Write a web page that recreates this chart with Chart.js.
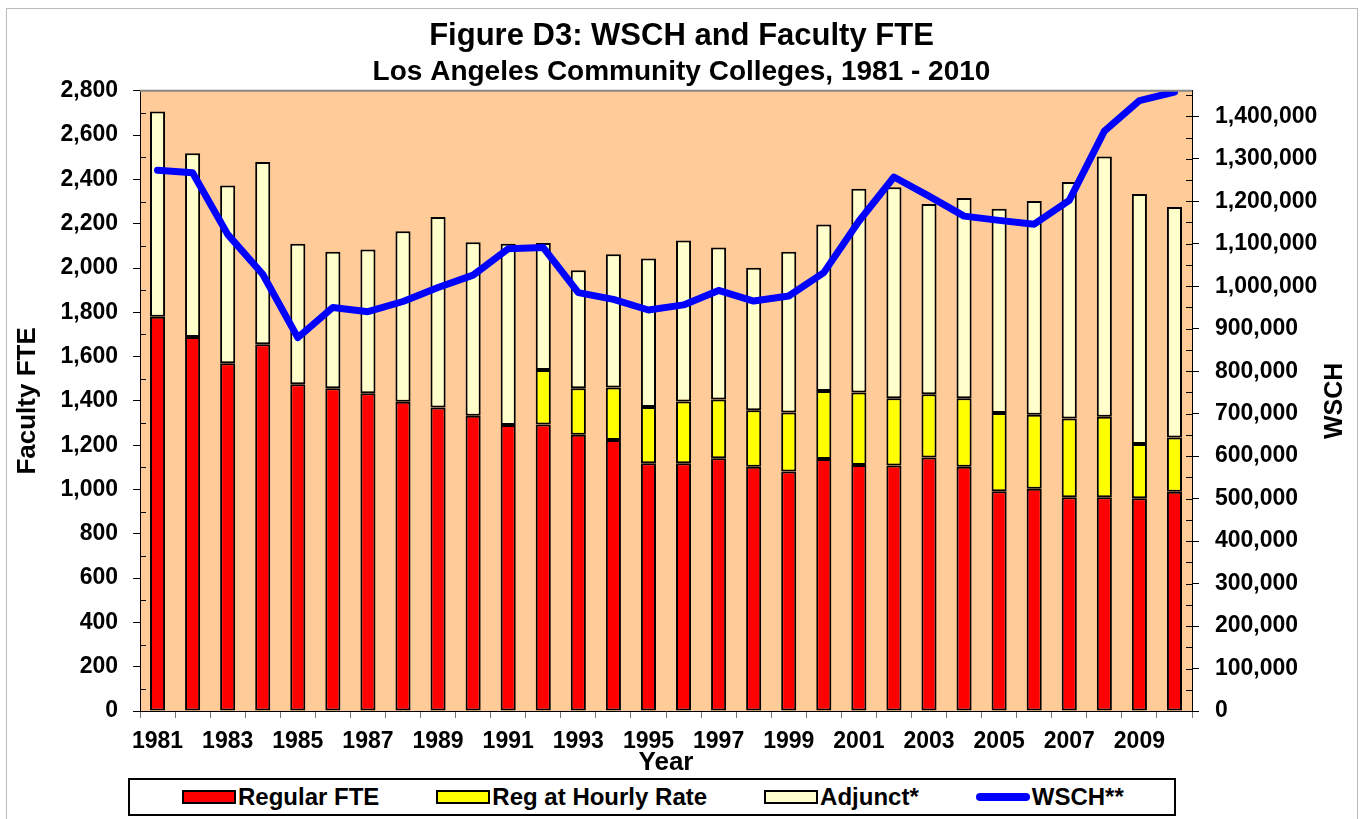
<!DOCTYPE html>
<html>
<head>
<meta charset="utf-8">
<title>Figure D3: WSCH and Faculty FTE</title>
<script src="https://cdn.jsdelivr.net/npm/chart.js@4.4.0/dist/chart.umd.min.js"></script>
<style>
  body { margin: 0; background: #fff; }
  #wrap { position: relative; width: 1364px; height: 819px; overflow: hidden; font-family: "Liberation Sans", Arial, sans-serif; }
  #frame { position: absolute; left: 6px; top: 8px; width: 1350px; height: 830px; border: 1px solid #bbb; }
  #chart { position: absolute; left: 0; top: 0; }
  #legend {
    position: absolute; left: 128px; top: 778px; width: 1048px; height: 38px;
    box-sizing: border-box; border: 2px solid #000; background: #fff;
    display: flex; align-items: center; padding-left: 52px; white-space: nowrap;
  }
  .item { display: flex; align-items: center; margin-right: 57px; flex-shrink: 0; }
  .sw { width: 54px; height: 14px; box-sizing: border-box; border: 2px solid #000; flex-shrink: 0; }
  .sw.line { height: 8px; border: none; border-radius: 4px; }
  .item span.txt { margin-left: 2px; font-weight: bold; font-size: 24px; color: #000; }
</style>
</head>
<body>
<div id="wrap">
  <div id="frame"></div>
  <canvas id="chart" width="1364" height="778"></canvas>
  <div id="legend"></div>
</div>
<script>
// категорії (роки)
const years = ["1981", "1982", "1983", "1984", "1985", "1986", "1987", "1988", "1989", "1990",
  "1991", "1992", "1993", "1994", "1995", "1996", "1997", "1998", "1999", "2000",
  "2001", "2002", "2003", "2004", "2005", "2006", "2007", "2008", "2009", "2010"];

// Faculty FTE (ліва вісь)
const regularFte = [1780, 1688, 1570, 1656, 1475, 1457, 1435, 1396, 1370, 1333,
  1291, 1293, 1247, 1223, 1118, 1118, 1141, 1103, 1081, 1138,
  1111, 1108, 1145, 1103, 992, 1003, 965, 965, 960, 990];
// до 1992 погодинних ставок немає
const hourlyFte = [null, null, null, null, null, null, null, null, null, null,
  null, 247, 210, 237, 255, 279, 265, 255, 267, 307,
  327, 304, 285, 309, 353, 334, 356, 363, 245, 245];
const adjunctFte = [926, 830, 803, 822, 635, 616, 648, 770, 860, 783,
  819, 573, 533, 602, 670, 727, 686, 643, 725, 751,
  920, 952, 859, 904, 923, 966, 1067, 1175, 1129, 1040];

// WSCH (права вісь)
const wsch = [1273000, 1267000, 1122000, 1028000, 879000, 950000, 940000, 964000, 997000, 1026000,
  1088000, 1091000, 985000, 969000, 944000, 956000, 990000, 965000, 977000, 1032000,
  1153000, 1257000, 1212000, 1165000, 1155000, 1146000, 1202000, 1365000, 1437000, 1457000];

// шкали
const fteMax = 2800, fteStep = 200;
const wschMax = 1460000, wschStep = 100000;
const wschTicks = [0, 100000, 200000, 300000, 400000, 500000, 600000, 700000,
  800000, 900000, 1000000, 1100000, 1200000, 1300000, 1400000];

const legendItems = [
  { label: "Regular FTE", color: "#FF0000" },
  { label: "Reg at Hourly Rate", color: "#FFFF00" },
  { label: "Adjunct*", color: "#FFFFCC" },
  { label: "WSCH**", color: "#0000FF", line: true }
];

const fontFamily = '"Liberation Sans", Arial, sans-serif';
Chart.defaults.font.family = fontFamily;
Chart.defaults.color = "#000";

// фон області графіка, верхня лінія, дрібні поділки та назва правої осі
const chartFrame = {
  id: "chartFrame",
  beforeDraw(chart) {
    const { ctx, chartArea: a } = chart;
    ctx.save();
    ctx.fillStyle = "#FFCC99";
    ctx.fillRect(a.left, a.top, a.right - a.left, a.bottom - a.top);
    ctx.restore();
  },
  afterDraw(chart) {
    const { ctx, chartArea: a } = chart;
    const y = chart.scales.y, y2 = chart.scales.y2;
    ctx.save();
    ctx.strokeStyle = "#888";
    ctx.lineWidth = 2;
    ctx.beginPath();
    ctx.moveTo(a.left, a.top);
    ctx.lineTo(a.right, a.top);
    ctx.stroke();

    ctx.strokeStyle = "#000";
    ctx.lineWidth = 1;
    ctx.beginPath();
    for (let v = fteStep / 2; v < fteMax; v += fteStep) {
      const p = Math.round(y.getPixelForValue(v)) + 0.5;
      ctx.moveTo(a.left, p);
      ctx.lineTo(a.left + 6, p);
    }
    for (let v = wschStep / 2; v < wschMax; v += wschStep) {
      const p = Math.round(y2.getPixelForValue(v)) + 0.5;
      ctx.moveTo(a.right - 6, p);
      ctx.lineTo(a.right, p);
    }
    wschTicks.forEach((v) => {
      const p = Math.round(y2.getPixelForValue(v)) + 0.5;
      ctx.moveTo(a.right - 6, p);
      ctx.lineTo(a.right, p);
    });
    ctx.stroke();

    // "WSCH" читається знизу вгору, як в Excel
    ctx.translate(y2.right - 22, (a.top + a.bottom) / 2);
    ctx.rotate(-Math.PI / 2);
    ctx.font = `bold 25px ${fontFamily}`;
    ctx.fillStyle = "#000";
    ctx.textAlign = "center";
    ctx.textBaseline = "middle";
    ctx.fillText("WSCH", 0, 0);
    ctx.restore();
  }
};

const barStyle = {
  type: "bar",
  yAxisID: "y",
  borderColor: "#000",
  borderWidth: 2,
  borderSkipped: false,
  barPercentage: 0.43,
  categoryPercentage: 1,
  order: 1
};

new Chart(document.getElementById("chart"), {
  data: {
    labels: years,
    datasets: [
      { ...barStyle, label: "Regular FTE", data: regularFte, backgroundColor: "#FF0000" },
      { ...barStyle, label: "Reg at Hourly Rate", data: hourlyFte, backgroundColor: "#FFFF00" },
      { ...barStyle, label: "Adjunct*", data: adjunctFte, backgroundColor: "#FFFFCC" },
      {
        type: "line",
        label: "WSCH**",
        data: wsch,
        yAxisID: "y2",
        borderColor: "#0000FF",
        borderWidth: 7,
        borderCapStyle: "round",
        borderJoinStyle: "round",
        pointRadius: 0,
        tension: 0,
        order: 0
      }
    ]
  },
  options: {
    responsive: false,
    animation: false,
    layout: { padding: { left: 6, right: 7, top: 8, bottom: 0 } },
    plugins: {
      legend: { display: false },
      tooltip: { enabled: false },
      title: {
        display: true,
        text: "Figure D3: WSCH and Faculty FTE",
        font: { size: 31, weight: "bold" },
        padding: { top: 10, bottom: 0 }
      },
      subtitle: {
        display: true,
        text: "Los Angeles Community Colleges, 1981 - 2010",
        color: "#000",
        font: { size: 28, weight: "bold" },
        padding: { top: 0, bottom: 2 }
      }
    },
    scales: {
      x: {
        stacked: true,
        afterFit: (s) => { s.height = 67; },
        grid: { offset: true, drawOnChartArea: false, tickLength: 7, color: "#777" },
        border: { color: "#000", width: 1 },
        ticks: {
          autoSkip: false,
          maxRotation: 0,
          minRotation: 0,
          padding: 10,
          font: { size: 23, weight: "bold" },
          callback: (val, i) => (i % 2 === 0 ? years[i] : "")
        },
        title: {
          display: true,
          text: "Year",
          font: { size: 26, weight: "bold" },
          padding: { top: 0, bottom: 0 }
        }
      },
      y: {
        stacked: true,
        position: "left",
        min: 0,
        max: fteMax,
        afterFit: (s) => { s.width = 134; },
        grid: { drawOnChartArea: false, tickLength: 7, color: "#000" },
        border: { color: "#000", width: 1 },
        ticks: {
          stepSize: fteStep,
          padding: 15,
          font: { size: 23, weight: "bold" },
          callback: (v) => v.toLocaleString("en-US")
        },
        title: {
          display: true,
          text: "Faculty FTE",
          font: { size: 26, weight: "bold" },
          padding: { top: 6, bottom: 0 }
        }
      },
      y2: {
        position: "right",
        min: 0,
        max: wschMax,
        afterFit: (s) => { s.width = 165; },
        afterBuildTicks: (s) => { s.ticks = wschTicks.map((v) => ({ value: v })); },
        grid: { drawOnChartArea: false, tickLength: 7, color: "#000" },
        border: { color: "#000", width: 1 },
        ticks: {
          padding: 16,
          font: { size: 23, weight: "bold" },
          callback: (v) => v.toLocaleString("en-US")
        }
      }
    }
  },
  plugins: [chartFrame]
});

// легенда в рамці під графіком
const legend = document.getElementById("legend");
legendItems.forEach((it) => {
  const div = document.createElement("div");
  div.classList.add("item");
  div.innerHTML = `<div class="sw${it.line ? " line" : ""}" style="background:${it.color}"></div><span class="txt">${it.label}</span>`;
  legend.appendChild(div);
});
</script>
</body>
</html>
